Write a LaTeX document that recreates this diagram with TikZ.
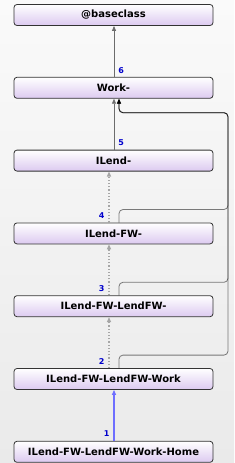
\documentclass[tikz,border=0pt]{standalone}
\usepackage{fontspec}
\setmainfont{DejaVu Sans}
\usetikzlibrary{positioning, arrows.meta}
\definecolor{boxedge}{HTML}{333333}
\definecolor{boxlow}{HTML}{DCCAF0}
\definecolor{numblue}{HTML}{0000CC}
\definecolor{linkblue}{HTML}{6E6EFF}
\definecolor{bgtop}{HTML}{FAFAFA}
\definecolor{bglow}{HTML}{EAEAEA}

\begin{document}
\begin{tikzpicture}[
    x=1pt, y=1pt,
    node distance=51pt,
    cls/.style={draw=boxedge, line width=0.8pt, rounded corners=3pt, top color=white, bottom color=boxlow,
        minimum width=199pt, minimum height=21pt, inner sep=0pt, font=\fontsize{10}{12}\selectfont\bfseries},
    num/.style={font=\fontsize{8}{9}\selectfont\bfseries, text=numblue, inner sep=1pt},
    inh/.style={draw=gray!85!black, line width=0.8pt, -{Triangle[length=5pt, width=4pt]}},
    impl/.style={draw=gray!70, line width=1.2pt, dotted, -{Triangle[length=5pt, width=4pt, fill=gray]}},
    rail/.style={draw=black, draw opacity=0.5, line width=0.8pt, rounded corners=4pt, -{Triangle[length=5pt, width=4pt]}},
    >=Stealth
]
\fill[top color=bgtop, bottom color=bglow] (0,0) rectangle (234,-463);
\useasboundingbox (0,0) rectangle (234,-463);

\node[cls] (base) at (113.5,-15) {@baseclass};
\node[cls, below=of base] (work) {Work-};
\node[cls, below=of work] (il) {ILend-};
\node[cls, below=of il] (ilfw) {ILend-FW-};
\node[cls, below=of ilfw] (ilfwl) {ILend-FW-LendFW-};
\node[cls, below=of ilfwl] (ilfwlw) {ILend-FW-LendFW-Work};
\node[cls, below=of ilfwlw] (home) {ILend-FW-LendFW-Work-Home};

% right-hand rail back up to Work-
\coordinate[xshift=114.5pt, yshift=-14pt] (railtop) at (work.south);
\draw[rail] ([xshift=5.5pt]ilfwlw.north) -- ++(0,13) -| (railtop) -| ([xshift=5.5pt]work.south);
\draw[rail] ([xshift=5.5pt]ilfwl.north) -- ++(0,13) -| (railtop) -| ([xshift=5.5pt]work.south);
\draw[rail] ([xshift=5.5pt]ilfw.north) -- ++(0,13) -| (railtop) -| ([xshift=5.5pt]work.south);

\draw[inh, draw=linkblue, line width=1.3pt] ([xshift=0.5pt]home.north) -- node[num, pos=0.14, left=3pt] {1} ([xshift=0.5pt]ilfwlw.south);
\draw[impl] ([xshift=-4.5pt]ilfwlw.north) -- node[num, pos=0.13, left=3pt] {2} ([xshift=-4.5pt]ilfwl.south);
\draw[impl] ([xshift=-4.5pt]ilfwl.north) -- node[num, pos=0.13, left=3pt] {3} ([xshift=-4.5pt]ilfw.south);
\draw[impl] ([xshift=-4.5pt]ilfw.north) -- node[num, pos=0.13, left=3pt] {4} ([xshift=-4.5pt]il.south);
\draw[inh] ([xshift=0.5pt]il.north) -- node[num, pos=0.13, right=3pt] {5} ([xshift=0.5pt]work.south);
\draw[inh] ([xshift=0.5pt]work.north) -- node[num, pos=0.13, right=3pt] {6} ([xshift=0.5pt]base.south);
\end{tikzpicture}
\end{document}
